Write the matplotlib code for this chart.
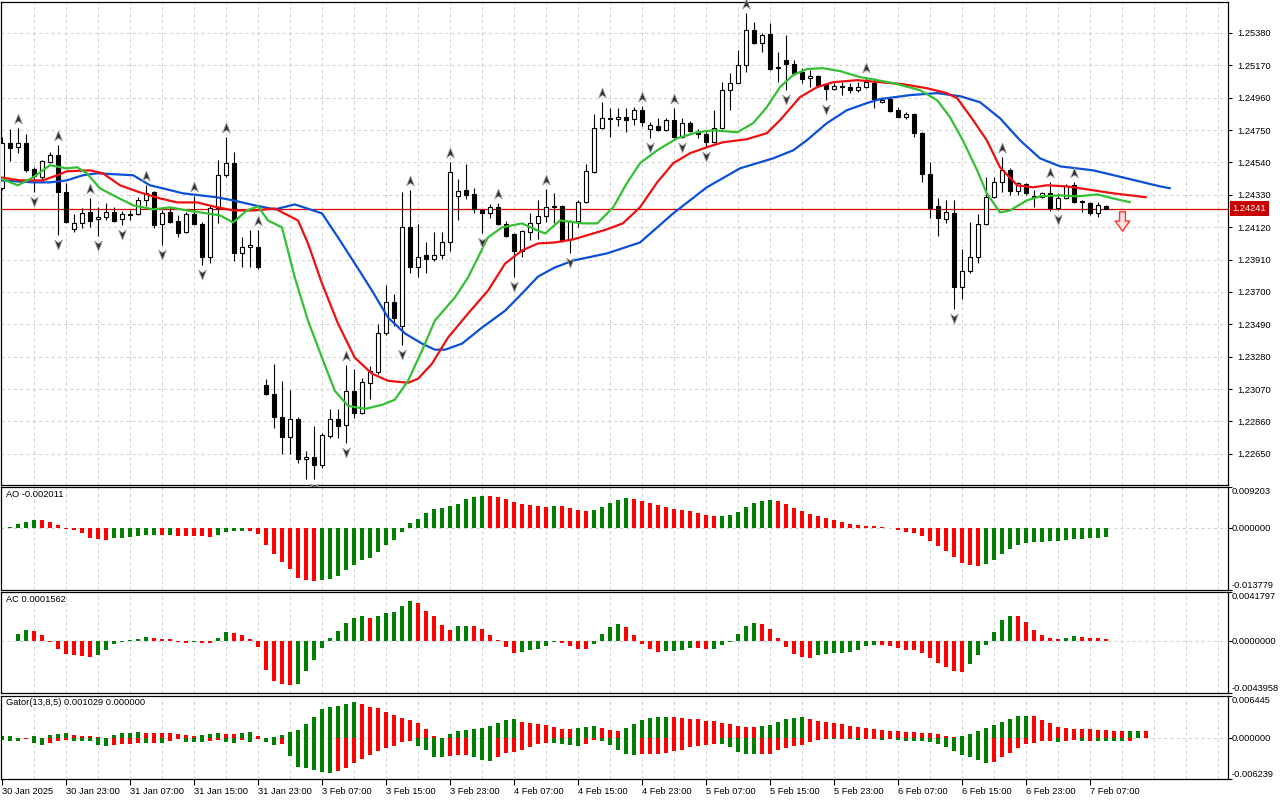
import matplotlib
matplotlib.use("Agg")
import matplotlib.pyplot as plt
from matplotlib.path import Path
from matplotlib.transforms import offset_copy, blended_transform_factory
import numpy as np

plt.rcParams['font.family'] = ['Liberation Sans', 'DejaVu Sans']

# ---------------- data ----------------
date_bars = [0, 8, 16, 24, 32, 40, 48, 56, 64, 72, 80, 88, 96, 104, 112, 120, 128, 136]
date_labels = ["30 Jan 2025", "30 Jan 23:00", "31 Jan 07:00", "31 Jan 15:00", "31 Jan 23:00",
               "3 Feb 07:00", "3 Feb 15:00", "3 Feb 23:00", "4 Feb 07:00", "4 Feb 15:00",
               "4 Feb 23:00", "5 Feb 07:00", "5 Feb 15:00", "5 Feb 23:00", "6 Feb 07:00",
               "6 Feb 15:00", "6 Feb 23:00", "7 Feb 07:00"]

price_ticks = [1.22650, 1.22860, 1.23070, 1.23280, 1.23490, 1.23700, 1.23910,
               1.24120, 1.24330, 1.24540, 1.24750, 1.24960, 1.25170, 1.25380]

open_ = [
    1.24372, 1.24665, 1.24639, 1.24665, 1.24496, 1.24444, 1.24541, 1.24587, 1.24346, 1.24106,
    1.24145, 1.24216, 1.24171, 1.24184, 1.24216, 1.24171, 1.24203, 1.24203, 1.24294, 1.24346,
    1.24138, 1.24216, 1.24158, 1.24086, 1.24203, 1.24138, 1.23930, 1.24242, 1.24457, 1.24535,
    1.23956, 1.23995, 1.23995, 1.23098, 1.23040, 1.22890, 1.22760, 1.22877, 1.22617, 1.22630,
    1.22578, 1.22767, 1.22877, 1.22838, 1.23059, 1.22916, 1.23111, 1.23183, 1.23436, 1.23638,
    1.23482, 1.24119, 1.23859, 1.23937, 1.23917, 1.23943, 1.24021, 1.24320, 1.24359, 1.24333,
    1.24229, 1.24210, 1.24249, 1.24138, 1.24073, 1.23969, 1.24086, 1.24145, 1.24190, 1.24255,
    1.24255, 1.24041, 1.24158, 1.24281, 1.24476, 1.24762, 1.24827, 1.24821, 1.24834, 1.24821,
    1.24879, 1.24756, 1.24775, 1.24749, 1.24814, 1.24704, 1.24795, 1.24736, 1.24723, 1.24671,
    1.24762, 1.25009, 1.25055, 1.25172, 1.25399, 1.25315, 1.25373, 1.25152, 1.25204, 1.25178,
    1.25126, 1.25087, 1.25100, 1.25048, 1.25016, 1.25035, 1.25029, 1.25009, 1.25029, 1.25055,
    1.24931, 1.24951, 1.24879, 1.24834, 1.24853, 1.24730, 1.24463, 1.24255, 1.24171, 1.24210,
    1.23735, 1.23833, 1.23924, 1.24138, 1.24314, 1.24411, 1.24489, 1.24353, 1.24398, 1.24314,
    1.24314, 1.24340, 1.24242, 1.24307, 1.24392, 1.24288, 1.24275, 1.24210, 1.24255]
high_ = [
    1.24704, 1.24756, 1.24762, 1.24723, 1.24509, 1.24554, 1.24606, 1.24652, 1.24405, 1.24203,
    1.24242, 1.24307, 1.24249, 1.24275, 1.24249, 1.24223, 1.24229, 1.24314, 1.24392, 1.24353,
    1.24229, 1.24249, 1.24197, 1.24216, 1.24320, 1.24151, 1.24262, 1.24554, 1.24704, 1.24606,
    1.24054, 1.24099, 1.24099, 1.23137, 1.23235, 1.23124, 1.23066, 1.22890, 1.22669, 1.22832,
    1.22786, 1.22942, 1.22942, 1.23228, 1.23202, 1.23144, 1.23222, 1.23495, 1.23748, 1.23690,
    1.24346, 1.24359, 1.24138, 1.24021, 1.24086, 1.24086, 1.24541, 1.24431, 1.24528, 1.24372,
    1.24236, 1.24268, 1.24275, 1.24158, 1.24080, 1.24099, 1.24210, 1.24294, 1.24366, 1.24340,
    1.24262, 1.24164, 1.24294, 1.24528, 1.24853, 1.24931, 1.24892, 1.24892, 1.24892, 1.24899,
    1.24905, 1.24801, 1.24827, 1.24827, 1.24892, 1.24827, 1.24808, 1.24756, 1.24736, 1.24879,
    1.25061, 1.25120, 1.25269, 1.25510, 1.25451, 1.25380, 1.25445, 1.25256, 1.25367, 1.25204,
    1.25152, 1.25139, 1.25107, 1.25055, 1.25055, 1.25061, 1.25055, 1.25061, 1.25094, 1.25087,
    1.24964, 1.24957, 1.24899, 1.24866, 1.24860, 1.24736, 1.24541, 1.24307, 1.24294, 1.24294,
    1.23976, 1.24151, 1.24203, 1.24444, 1.24444, 1.24574, 1.24502, 1.24411, 1.24405, 1.24359,
    1.24346, 1.24411, 1.24340, 1.24398, 1.24411, 1.24294, 1.24281, 1.24281, 1.24262]
low_ = [
    1.24359, 1.24548, 1.24600, 1.24476, 1.24346, 1.24424, 1.24535, 1.24067, 1.24145, 1.24086,
    1.24112, 1.24119, 1.24060, 1.24164, 1.24151, 1.24132, 1.24164, 1.24197, 1.24255, 1.24112,
    1.24008, 1.24145, 1.24054, 1.24080, 1.24132, 1.23872, 1.23891, 1.24145, 1.24444, 1.23904,
    1.23859, 1.23859, 1.23852, 1.23033, 1.22819, 1.22650, 1.22650, 1.22591, 1.22487, 1.22487,
    1.22559, 1.22754, 1.22754, 1.22721, 1.22884, 1.22910, 1.23007, 1.23170, 1.23423, 1.23482,
    1.23358, 1.23826, 1.23794, 1.23820, 1.23904, 1.23917, 1.23969, 1.24164, 1.24301, 1.24210,
    1.24080, 1.24177, 1.24132, 1.24054, 1.23794, 1.23924, 1.24034, 1.24041, 1.24151, 1.24145,
    1.24021, 1.23956, 1.24119, 1.24275, 1.24470, 1.24756, 1.24704, 1.24775, 1.24736, 1.24782,
    1.24775, 1.24697, 1.24743, 1.24743, 1.24697, 1.24697, 1.24736, 1.24697, 1.24639, 1.24665,
    1.24756, 1.24879, 1.25055, 1.25126, 1.25308, 1.25256, 1.25139, 1.25061, 1.25009, 1.25107,
    1.25055, 1.25029, 1.25029, 1.24944, 1.25009, 1.24977, 1.24990, 1.24996, 1.25022, 1.24892,
    1.24925, 1.24866, 1.24827, 1.24821, 1.24704, 1.24411, 1.24177, 1.24060, 1.24145, 1.23592,
    1.23657, 1.23820, 1.23885, 1.24132, 1.24307, 1.24346, 1.24327, 1.24327, 1.24327, 1.24249,
    1.24307, 1.24223, 1.24229, 1.24301, 1.24275, 1.24216, 1.24197, 1.24184, 1.24241]
close_ = [
    1.24665, 1.24632, 1.24665, 1.24489, 1.24450, 1.24548, 1.24587, 1.24346, 1.24151, 1.24145,
    1.24210, 1.24158, 1.24184, 1.24216, 1.24158, 1.24203, 1.24200, 1.24294, 1.24340, 1.24132,
    1.24210, 1.24151, 1.24080, 1.24203, 1.24138, 1.23930, 1.24242, 1.24457, 1.24535, 1.23956,
    1.23995, 1.24002, 1.23859, 1.23040, 1.22890, 1.22760, 1.22877, 1.22617, 1.22630, 1.22578,
    1.22773, 1.22877, 1.22832, 1.23059, 1.22916, 1.23118, 1.23189, 1.23436, 1.23638, 1.23534,
    1.24119, 1.23859, 1.23930, 1.23911, 1.23943, 1.24021, 1.24476, 1.24353, 1.24327, 1.24236,
    1.24210, 1.24249, 1.24138, 1.24060, 1.23969, 1.24093, 1.24145, 1.24190, 1.24249, 1.24249,
    1.24034, 1.24158, 1.24281, 1.24483, 1.24762, 1.24827, 1.24821, 1.24834, 1.24814, 1.24879,
    1.24801, 1.24782, 1.24749, 1.24814, 1.24704, 1.24795, 1.24743, 1.24723, 1.24671, 1.24762,
    1.25009, 1.25055, 1.25172, 1.25399, 1.25315, 1.25367, 1.25146, 1.25159, 1.25178, 1.25120,
    1.25081, 1.25100, 1.25042, 1.25016, 1.25035, 1.25029, 1.25009, 1.25029, 1.25061, 1.24951,
    1.24944, 1.24873, 1.24834, 1.24853, 1.24730, 1.24463, 1.24242, 1.24177, 1.24216, 1.23735,
    1.23833, 1.23924, 1.24138, 1.24314, 1.24411, 1.24489, 1.24353, 1.24405, 1.24340, 1.24320,
    1.24340, 1.24242, 1.24307, 1.24385, 1.24281, 1.24281, 1.24210, 1.24262, 1.24241]

last_price = 1.24241

# Alligator lines (bar position, price)
jaw_bars = [-0.25, 3.9, 6, 8.1, 10.1, 11.9, 16.4, 18.5, 20.6, 22.6, 24.75, 26.9, 28.9, 31.6, 34.1,
            36.6, 40, 42, 44.1, 46.25, 48.25, 50.4, 52.5, 54.1, 55.4, 57.5, 60, 62.9, 65, 67,
            69.1, 71.4, 75.6, 79.75, 83.9, 88.1, 92.25, 96.4, 98.9, 100.6, 103.1, 105.6, 108.1,
            109.75, 113.5, 116.9, 119.75, 122.25, 124.75, 127.25, 129.75, 132.25, 136.4, 140.6,
            144.75, 146.1]
jaw_vals = [1.24424, 1.24411, 1.24411, 1.24424, 1.24457, 1.24470, 1.24457, 1.24392, 1.24366,
            1.24340, 1.24327, 1.24314, 1.24294, 1.24262, 1.24236, 1.24268, 1.24210, 1.24054,
            1.23885, 1.23709, 1.23534, 1.23430, 1.23365, 1.23326, 1.23326, 1.23365, 1.23469,
            1.23579, 1.23690, 1.23800, 1.23859, 1.23904, 1.23950, 1.24021, 1.24210, 1.24379,
            1.24502, 1.24567, 1.24619, 1.24684, 1.24795, 1.24879, 1.24925, 1.24951, 1.24977,
            1.24990, 1.24970, 1.24931, 1.24827, 1.24684, 1.24567, 1.24515, 1.24489, 1.24437,
            1.24385, 1.24372]

teeth_bars = [-0.25, 2.25, 5.1, 6.9, 8.1, 11, 12.6, 14.75, 17.25, 19.75, 21.9, 24.4, 26.4, 28.9,
              31.6, 34.1, 35.75, 37, 38.25, 40, 42, 44.1, 46.25, 48.25, 50.75, 52, 53.75, 55.75,
              58.25, 60.75, 62.9, 65, 67, 69.1, 71.4, 75.6, 77.6, 79.75, 81.9, 83.9, 86, 88.1,
              90.1, 93.1, 95.6, 97.25, 99.75, 101.9, 103.9, 106.9, 109.75, 112.6, 115.6, 118.1,
              119.4, 121.4, 123.1, 124.75, 126.9, 128.9, 130.6, 133.1, 135.6, 138.9, 143.1]
teeth_vals = [1.24444, 1.24424, 1.24424, 1.24457, 1.24483, 1.24489, 1.24470, 1.24392, 1.24346,
              1.24307, 1.24281, 1.24281, 1.24255, 1.24229, 1.24229, 1.24242, 1.24197, 1.24164,
              1.24015, 1.23755, 1.23495, 1.23274, 1.23170, 1.23124, 1.23111, 1.23137, 1.23235,
              1.23404, 1.23560, 1.23709, 1.23885, 1.23969, 1.24015, 1.24021, 1.24041, 1.24106,
              1.24145, 1.24249, 1.24411, 1.24535, 1.24600, 1.24639, 1.24671, 1.24691, 1.24730,
              1.24814, 1.24964, 1.25029, 1.25061, 1.25074, 1.25061, 1.25048, 1.25022, 1.24990,
              1.24957, 1.24814, 1.24684, 1.24509, 1.24392, 1.24379, 1.24392, 1.24385, 1.24366,
              1.24340, 1.24314]

lips_bars = [-0.25, 2, 3.9, 6, 8.1, 9.4, 10.6, 12.25, 14.4, 16.4, 18.9, 21, 23.1, 25.6, 27.25,
             28.9, 30.6, 32, 33.25, 35, 36.6, 38.25, 40, 41.6, 43.25, 45.4, 47.5, 49.1, 50.75,
             52.5, 54.1, 56.6, 58.25, 60.75, 62.5, 65, 66.6, 67.9, 69.75, 72.6, 74.4, 76.4, 78.1,
             79.75, 81.9, 84.4, 86.9, 88.9, 91.9, 93.9, 95.6, 97.25, 98.9, 100.6, 102.6, 104.75,
             107.25, 111.4, 114.75, 116.9, 118.5, 120.1, 121.9, 123.1, 124.75, 126, 128.1,
             129.75, 132.25, 134.4, 136.9, 138.9, 141.1]
lips_vals = [1.24437, 1.24392, 1.24444, 1.24522, 1.24502, 1.24509, 1.24470, 1.24372, 1.24314,
             1.24262, 1.24236, 1.24249, 1.24229, 1.24210, 1.24197, 1.24151, 1.24229, 1.24255,
             1.24164, 1.24119, 1.23794, 1.23514, 1.23274, 1.23059, 1.22962, 1.22942, 1.22968,
             1.23001, 1.23124, 1.23319, 1.23514, 1.23664, 1.23794, 1.24054, 1.24119, 1.24145,
             1.24106, 1.24080, 1.24164, 1.24145, 1.24145, 1.24249, 1.24405, 1.24535, 1.24619,
             1.24697, 1.24736, 1.24749, 1.24736, 1.24795, 1.24899, 1.25029, 1.25107, 1.25146,
             1.25152, 1.25133, 1.25094, 1.25055, 1.25009, 1.24944, 1.24834, 1.24684, 1.24489,
             1.24340, 1.24216, 1.24229, 1.24294, 1.24320, 1.24327, 1.24320, 1.24333, 1.24307,
             1.24281]

fractal_up_bars = [2, 7, 11, 18, 24, 28, 32, 43, 51, 56, 62, 68, 75, 80, 84, 93, 108, 125, 131, 134]
fractal_down_bars = [4, 7, 12, 15, 20, 25, 39, 43, 50, 60, 64, 71, 81, 85, 88, 98, 103, 119, 132]

sell_signal_bar = 140
sell_signal_price = 1.24158

ao_vals = [
    0.0001, 0.0003, 0.00098, 0.00143, 0.00188, 0.0018, 0.00143, 0.00068, -0.00015, -0.00038,
    -0.00105, -0.00218, -0.0024, -0.00255, -0.00218, -0.00215, -0.00195, -0.00173, -0.00143, -0.0014,
    -0.00145, -0.00142, -0.00165, -0.00173, -0.00175, -0.0018, -0.00195, -0.00143, -0.00083, -0.0006,
    -0.00058, -0.0006, -0.0012, -0.00376, -0.00578, -0.00743, -0.00916, -0.01119, -0.01164, -0.01187,
    -0.01157, -0.01142, -0.01066, -0.00939, -0.00826, -0.00706, -0.00653, -0.00526, -0.00376, -0.00263,
    -0.00075, 0.0012, 0.00203, 0.00345, 0.00428, 0.00451, 0.00503, 0.00548, 0.00653, 0.00698,
    0.00721, 0.00718, 0.00698, 0.00653, 0.00586, 0.00548, 0.00526, 0.00488, 0.00473, 0.005,
    0.00488, 0.00451, 0.00406, 0.00383, 0.00406, 0.00473, 0.00563, 0.00631, 0.00676, 0.00653,
    0.00608, 0.00563, 0.00518, 0.00473, 0.00428, 0.00413, 0.00383, 0.00338, 0.00293, 0.0027,
    0.00272, 0.00293, 0.0036, 0.00473, 0.00563, 0.00608, 0.00631, 0.00608, 0.00541, 0.00451,
    0.00383, 0.00315, 0.0027, 0.00225, 0.00173, 0.00135, 0.0009, 0.00068, 0.00045, 0.00043,
    0.0003, 0.00005, -0.0003, -0.00075, -0.00105, -0.00173, -0.00285, -0.00398, -0.00511, -0.00646,
    -0.00781, -0.00826, -0.00849, -0.00804, -0.00713, -0.00578, -0.00466, -0.00376, -0.0033, -0.00308,
    -0.00305, -0.00285, -0.00283, -0.00263, -0.00245, -0.00235, -0.00226, -0.00215, -0.002011]
ao_colors = ("gggggrrrrr rrrrgggggg rgrrrrrggg grrrrrrrrr gggggggggg gggggggggg "
             "grrrrrrrrg rrrrgggggr rrrrrrrrrr gggggggrrr rrrrrrrrrr rrrrrrrrrr "
             "rrrggggggg ggggggggg").replace(" ", "")

ac_vals = [
    0.00003, 0.00006, 0.00063, 0.00092, 0.00086, 0.00051, -0.00003, -0.00066, -0.00109, -0.00117,
    -0.00126, -0.00134, -0.00114, -0.00074, -0.00023, -0.00003, 0.00009, 0.0002, 0.00034, 0.00031,
    0.00017, 0.00015, -0.00003, -0.00017, -0.00009, -0.00011, -0.00013, 0.00026, 0.00077, 0.00072,
    0.00054, 0.00017, -0.00046, -0.00246, -0.00338, -0.00366, -0.00368, -0.00365, -0.00255, -0.0016,
    -0.00057, 0.00026, 0.00086, 0.00154, 0.00197, 0.00215, 0.00197, 0.00212, 0.0024, 0.00249,
    0.00295, 0.0034, 0.00326, 0.00257, 0.00215, 0.0014, 0.00094, 0.00129, 0.00131, 0.00127,
    0.00103, 0.00049, 0.00009, -0.00049, -0.001, -0.00092, -0.00074, -0.00066, -0.0004, -0.00003,
    -0.00011, -0.00043, -0.00069, -0.0007, -0.00026, 0.00063, 0.0012, 0.00146, 0.0012, 0.00051,
    -0.00026, -0.00069, -0.00092, -0.00083, -0.00082, -0.00074, -0.00057, -0.0006, -0.00069, -0.00067,
    -0.00031, -0.00003, 0.0006, 0.00129, 0.00154, 0.00146, 0.00103, 0.00026, -0.00049, -0.00109,
    -0.00134, -0.00143, -0.00117, -0.00109, -0.001, -0.00098, -0.00092, -0.00074, -0.0004, -0.00031,
    -0.00033, -0.0004, -0.00057, -0.00072, -0.00075, -0.001, -0.00143, -0.00186, -0.0022, -0.00255,
    -0.00258, -0.00194, -0.00117, -0.00031, 0.00077, 0.0018, 0.00215, 0.00213, 0.00163, 0.00092,
    0.00051, 0.00026, 0.00017, 0.00026, 0.00043, 0.00034, 0.00026, 0.00024, 0.0001562]
ac_colors = ("ggggrrrrrr rrgggggggr rrrrgrrggr rrrrrrrggg ggggggrggg ggrrrrrggr "
             "rrrrrggggg rrrrggggrr rrrggggrrg gggggrrrrr rrgggggggg rrrrrrrrrr "
             "rggggggrrr rrrggrrrr").replace(" ", "")

gator_up_vals = [
    0.00026, 0.00026, 0.0001, 0.00009, 0.00026, 0.0001, 0.00041, 0.00067, 0.00083, 0.00052,
    0.00036, 0.00026, 0.00021, 0.0001, 0.00052, 0.00072, 0.00083, 0.00088, 0.00083, 0.00082,
    0.00081, 0.00077, 0.00067, 0.00041, 0.00036, 0.00052, 0.00067, 0.00083, 0.00067, 0.00062,
    0.00083, 0.00088, 0.00036, 0.0001, 0.00015, 0.00041, 0.00093, 0.00119, 0.00222, 0.00325,
    0.00444, 0.0047, 0.00495, 0.00526, 0.00547, 0.00526, 0.0048, 0.00454, 0.00402, 0.00351,
    0.00315, 0.00273, 0.00237, 0.00144, 0.00026, 0.0001, 0.00067, 0.00108, 0.00129, 0.00144,
    0.0015, 0.00186, 0.00237, 0.00284, 0.00289, 0.00248, 0.00232, 0.00212, 0.00206, 0.00165,
    0.00139, 0.00134, 0.0016, 0.0017, 0.00181, 0.0016, 0.00129, 0.00114, 0.0015, 0.00212,
    0.00279, 0.00304, 0.0032, 0.00325, 0.0032, 0.0031, 0.00299, 0.00289, 0.00268, 0.00258,
    0.00237, 0.00217, 0.00191, 0.00175, 0.00165, 0.00186, 0.00206, 0.00243, 0.00289, 0.00315,
    0.0032, 0.00289, 0.00268, 0.00243, 0.00227, 0.00212, 0.00186, 0.00175, 0.00155, 0.00144,
    0.00124, 0.00108, 0.00103, 0.00098, 0.00088, 0.00083, 0.00072, 0.00057, 0.00031, 0.00015,
    0.00026, 0.00062, 0.00108, 0.00155, 0.00201, 0.00248, 0.00294, 0.00335, 0.00346, 0.00335,
    0.00279, 0.00227, 0.0017, 0.0016, 0.00144, 0.00139, 0.00134, 0.00124, 0.00123, 0.00112,
    0.00104, 0.00107, 0.0011, 0.001029]
gator_up_colors = ("ggrrgrgggr rrrrggggrr rrrrrgggrr ggrrgggggg gggggrrrrr rrrrrrgggg "
                   "gggggrrrrr rrgggrrrgg ggggrrrrrr rrrrrggggg grrrrrrrrr rrrrrrrrrr "
                   "gggggggggr rrrrrrrrrr rggr").replace(" ", "")

gator_down_vals = [
    -0.00021, -0.00036, -0.00038, -0.00015, -0.00067, -0.00098, -0.00077, -0.00036, -0.00026, -0.00036,
    -0.00037, -0.00046, -0.00098, -0.00114, -0.00098, -0.00096, -0.00088, -0.00077, -0.00078, -0.00067,
    -0.00068, -0.00036, -0.00015, -0.00052, -0.00055, -0.00057, -0.00036, -0.00034, -0.00052, -0.00077,
    -0.00026, -0.00062, -0.00015, -0.00052, -0.00098, -0.00096, -0.00268, -0.00433, -0.00459, -0.0049,
    -0.00511, -0.00526, -0.00506, -0.00449, -0.00387, -0.00315, -0.00258, -0.00196, -0.0015, -0.00114,
    -0.00062, -0.00036, -0.00114, -0.00181, -0.00284, -0.00294, -0.00268, -0.00253, -0.0025, -0.00294,
    -0.0033, -0.00346, -0.00294, -0.00232, -0.00217, -0.00181, -0.00139, -0.00088, -0.00077, -0.00078,
    -0.00093, -0.00108, -0.00114, -0.00083, -0.00031, -0.00046, -0.00108, -0.00186, -0.00248, -0.00263,
    -0.00248, -0.00237, -0.00236, -0.00227, -0.00196, -0.00175, -0.00134, -0.00119, -0.00108, -0.00083,
    -0.00093, -0.00134, -0.00217, -0.00237, -0.00248, -0.00246, -0.00237, -0.00186, -0.0015, -0.00124,
    -0.00098, -0.00057, -0.00021, -0.0001, -0.00011, -0.00005, -0.00015, -0.00021, -0.00016, -0.0001,
    -0.00021, -0.00016, -0.00031, -0.00041, -0.00046, -0.00047, -0.00057, -0.00083, -0.00134, -0.00201,
    -0.00263, -0.00289, -0.0033, -0.00382, -0.00366, -0.00289, -0.00227, -0.00144, -0.00083, -0.00067,
    -0.00041, -0.0004, -0.00062, -0.00036, -0.00035, -0.00046, -0.00036, -0.00037, -0.00038, -0.0004,
    -0.00041, -0.00036]
gator_down_colors = ("gggrggrrrg ggggrrrrgr grrgggrrgg rgrggrgggg ggrrrrrrrr rrggggrrrg "
                     "ggrrrrrrrg gggrrggggg rrrrrrrrrr gggggrrrrr rrrrgrggrr grgggggggg "
                     "ggggrrrrrr rrgrrgrggg gr").replace(" ", "")

ao_label = "AO -0.002011"
ac_label = "AC 0.0001562"
gator_label = "Gator(13,8,5) 0.001029 0.000000"
ao_range = (-0.013779, 0.009203)
ac_range = (-0.0043958, 0.0041797)
gator_range = (-0.006239, 0.006445)
ao_axis_labels = ["-0.013779", "0.000000", "0.009203"]
ac_axis_labels = ["-0.0043958", "0.0000000", "0.0041797"]
gator_axis_labels = ["-0.006239", "0.000000", "0.006445"]

# ---------------- layout ----------------
W, H = 1280, 800
fig = plt.figure(figsize=(12.8, 8), dpi=100)
fig.patch.set_facecolor("white")

BAR_PX, X0_PX = 8.0, 2.0
AX_L, AX_R = 1, 1228
XLIM = ((AX_L - X0_PX) / BAR_PX, (AX_R - X0_PX) / BAR_PX)
FS = 6.7
GRID_C = "#d2d2d2"
GREEN = "#008000"
RED = "#ff0000"


def px_axes(t, b):
    return fig.add_axes([AX_L / W, 1 - b / H, (AX_R - AX_L) / W, (b - t) / H])


ax_main = px_axes(2, 485)
ax_ao = px_axes(487, 590)
ax_ac = px_axes(592, 693)
ax_gt = px_axes(696, 779)

grid_bars = np.arange(4, XLIM[1], 4)

for ax in (ax_main, ax_ao, ax_ac, ax_gt):
    ax.set_xlim(*XLIM)
    ax.set_facecolor("white")
    for s in ax.spines.values():
        s.set_color("black")
        s.set_linewidth(0.9)
    ax.tick_params(axis="x", bottom=False, labelbottom=False)
    ax.yaxis.tick_right()

main_ylim = (1.22448, 1.25581)
ax_main.set_ylim(*main_ylim)
for ax, rng in ((ax_ao, ao_range), (ax_ac, ac_range), (ax_gt, gator_range)):
    ax.set_ylim(*rng)

# grid
for ax in (ax_main, ax_ao, ax_ac, ax_gt):
    lo, hi = ax.get_ylim()
    ax.vlines(grid_bars, lo, hi, colors=GRID_C, linestyles=(0, (3, 3)), linewidth=0.75, zorder=0)
ax_main.hlines(price_ticks, XLIM[0], XLIM[1], colors=GRID_C, linestyles=(0, (3, 3)),
               linewidth=0.75, zorder=0)
for ax in (ax_ao, ax_ac, ax_gt):
    ax.hlines([0], XLIM[0], XLIM[1], colors=GRID_C, linestyles=(0, (3, 3)), linewidth=0.75, zorder=0)

# ---------------- main chart ----------------
k = np.arange(len(close_))
o = np.array(open_); h = np.array(high_); l = np.array(low_); c = np.array(close_)
bull = c >= o

ax_main.axhline(last_price, color="#e00000", linewidth=0.9, zorder=1)

ax_main.vlines(k, l, h, colors="black", linewidth=0.8, zorder=2)
body_lo = np.minimum(o, c)
body_h = np.maximum(np.abs(c - o), 0.000005)
ax_main.bar(k[bull], body_h[bull], bottom=body_lo[bull], width=0.55,
            facecolor="white", edgecolor="black", linewidth=0.8, zorder=3)
ax_main.bar(k[~bull], body_h[~bull], bottom=body_lo[~bull], width=0.55,
            facecolor="black", edgecolor="black", linewidth=0.8, zorder=3)

ax_main.plot(jaw_bars, jaw_vals, color="#0a50d6", linewidth=1.6, zorder=4, solid_capstyle="butt")
ax_main.plot(teeth_bars, teeth_vals, color="#ee1010", linewidth=1.6, zorder=4, solid_capstyle="butt")
ax_main.plot(lips_bars, lips_vals, color="#33c033", linewidth=1.6, zorder=4, solid_capstyle="butt")

# fractal arrows
up_path = Path([(0, 1), (0.7, -0.8), (0, -0.3), (-0.7, -0.8), (0, 1)],
               [Path.MOVETO, Path.LINETO, Path.LINETO, Path.LINETO, Path.CLOSEPOLY])
down_path = Path([(0, -1), (0.7, 0.8), (0, 0.3), (-0.7, 0.8), (0, -1)],
                 [Path.MOVETO, Path.LINETO, Path.LINETO, Path.LINETO, Path.CLOSEPOLY])
tr_up = offset_copy(ax_main.transData, fig=fig, x=0, y=9, units="dots")
tr_dn = offset_copy(ax_main.transData, fig=fig, x=0, y=-9, units="dots")
ax_main.plot(fractal_up_bars, h[fractal_up_bars], linestyle="none", marker=up_path, markersize=8,
             markerfacecolor="#303030", markeredgecolor="#a8a8a8", markeredgewidth=0.6,
             transform=tr_up, zorder=5, clip_on=False)
ax_main.plot(fractal_down_bars, l[fractal_down_bars], linestyle="none", marker=down_path, markersize=8,
             markerfacecolor="#303030", markeredgecolor="#a8a8a8", markeredgewidth=0.6,
             transform=tr_dn, zorder=5, clip_on=False)

# sell signal arrow
sell_path = Path([(-0.3, 1), (0.3, 1), (0.3, 0.05), (0.75, 0.05), (0, -1), (-0.75, 0.05),
                  (-0.3, 0.05), (-0.3, 1)],
                 [Path.MOVETO] + [Path.LINETO] * 6 + [Path.CLOSEPOLY])
ax_main.plot([sell_signal_bar], [sell_signal_price], linestyle="none", marker=sell_path,
             markersize=14, markerfacecolor="#ffe4e4", markeredgecolor="#ff3030",
             markeredgewidth=1.0, zorder=5)

ax_main.set_yticks(price_ticks)
ax_main.set_yticklabels([f"{p:.5f}" for p in price_ticks])
ax_main.tick_params(axis="y", right=True, left=False, length=3, width=0.8, pad=4, labelsize=FS)

tr_lbl = blended_transform_factory(ax_main.transAxes, ax_main.transData)
ax_main.text(1.0035, last_price, f"{last_price:.5f}", transform=tr_lbl, ha="left", va="center",
             fontsize=FS, color="white", zorder=10,
             bbox=dict(boxstyle="square,pad=0.3", facecolor="#c80000", edgecolor="none"))

# ---------------- indicator panels ----------------
def color_list(s, n):
    return [GREEN if (i < len(s) and s[i] == "g") else RED for i in range(n)]


ax_ao.bar(np.arange(len(ao_vals)), ao_vals, width=0.5, color=color_list(ao_colors, len(ao_vals)),
          linewidth=0, zorder=2)
ax_ac.bar(np.arange(len(ac_vals)), ac_vals, width=0.5, color=color_list(ac_colors, len(ac_vals)),
          linewidth=0, zorder=2)
ax_gt.bar(np.arange(len(gator_up_vals)), gator_up_vals, width=0.55,
          color=color_list(gator_up_colors, len(gator_up_vals)), linewidth=0, zorder=2)
ax_gt.bar(np.arange(len(gator_down_vals)), gator_down_vals, width=0.55,
          color=color_list(gator_down_colors, len(gator_down_vals)), linewidth=0, zorder=2)

for ax, name, rng, labs in ((ax_ao, ao_label, ao_range, ao_axis_labels),
                            (ax_ac, ac_label, ac_range, ac_axis_labels),
                            (ax_gt, gator_label, gator_range, gator_axis_labels)):
    ax.text(0.004, 0.925, name, transform=ax.transAxes, ha="left", va="center", fontsize=FS)
    ax.set_yticks([rng[0], 0.0, rng[1]])
    ax.set_yticklabels([])
    ax.tick_params(axis="y", right=True, left=False, length=3, width=0.8)
    trb = blended_transform_factory(ax.transAxes, ax.transData)
    ax.text(1.0030, rng[1], labs[2], transform=trb, ha="left", va="top", fontsize=FS)
    ax.text(1.0030, 0.0, labs[1], transform=trb, ha="left", va="center", fontsize=FS)
    ax.text(1.0030, rng[0], labs[0], transform=trb, ha="left", va="bottom", fontsize=FS)

ax_gt.set_xticks(date_bars)
ax_gt.set_xticklabels(date_labels, ha="left", fontsize=FS)
ax_gt.tick_params(axis="x", bottom=True, labelbottom=True, length=4, width=0.8, pad=1.5)

fig.savefig("out.png", dpi=100, facecolor="white")
